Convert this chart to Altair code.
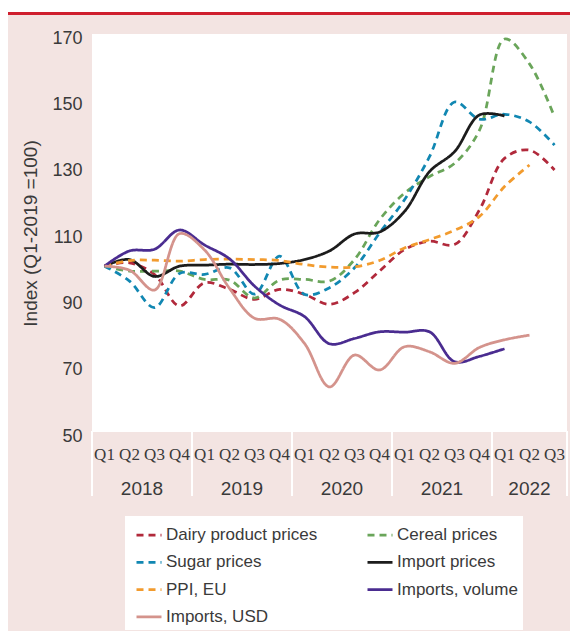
import altair as alt
import pandas as pd

# ---- data -------------------------------------------------------------
quarter_labels = ["Q1", "Q2", "Q3", "Q4", "Q1", "Q2", "Q3", "Q4", "Q1", "Q2",
                  "Q3", "Q4", "Q1", "Q2", "Q3", "Q4", "Q1", "Q2", "Q3"]
year_labels = ["2018"] * 4 + ["2019"] * 4 + ["2020"] * 4 + ["2021"] * 4 + ["2022"] * 3

dairy = [100, 101, 97.5, 88, 95, 93, 90, 93, 91.5, 88.5, 92, 98.5, 105, 107.5,
         106.5, 117, 132.5, 135, 129]
cereal = [100, 98.5, 98.5, 98.5, 96, 95.8, 90.4, 95.8, 96, 95.5, 102, 114, 122,
          127, 131, 141, 168.5, 161, 145]
sugar = [100, 95.5, 87.5, 97.8, 97.5, 99.5, 91.6, 103, 91.5, 93.5, 99.5, 110,
         120, 133, 149.5, 144.3, 145.8, 143.5, 136.5]
import_prices = [100, 102, 96.9, 100, 100.3, 100.6, 100.5, 100.8, 102, 104.6,
                 109.7, 110.3, 116.5, 128.5, 134.5, 145.6, 145.3, None, None]
ppi_eu = [100, 101.7, 101.8, 101.5, 102, 102.1, 102, 101.7, 100.5, 99.7, 99.8,
          101.7, 105.5, 108, 110.8, 115, 124, 130.5, None]
imports_volume = [100, 104.6, 105.1, 110.9, 106.4, 102.2, 94, 88.3, 84.8, 76.6,
                  78.2, 80.2, 80.1, 80.2, 71.2, 72.8, 75.1, None, None]
imports_usd = [100, 98.8, 92.8, 109.8, 104.9, 93.3, 84.3, 84, 76.7, 63.6, 73.2,
               68.7, 75.7, 74.2, 70.7, 75.5, 77.8, 79.2, None]

series_names = ["Dairy product prices", "Cereal prices", "Sugar prices",
                "Import prices", "PPI, EU", "Imports, volume", "Imports, USD"]
series_values = [dairy, cereal, sugar, import_prices, ppi_eu, imports_volume,
                 imports_usd]

# ---- styles -----------------------------------------------------------
series_colors = ["#b1293b", "#6aa55a", "#1187b2", "#1c1c1c", "#f29b2e",
                 "#4a2c90", "#d4938c"]
series_dashes = [[7, 5], [7, 5], [7, 5], [1, 0], [7, 5], [1, 0], [1, 0]]
PINK = "#f3e4e2"
TEXT = "#3a3a3a"

rows = []
for name, vals in zip(series_names, series_values):
    for i, v in enumerate(vals):
        if v is not None:
            rows.append({"series": name, "i": i, "value": v})
df = pd.DataFrame(rows)

qdf = pd.DataFrame({"i": list(range(len(quarter_labels))),
                    "q": quarter_labels, "year": year_labels})
one = pd.DataFrame({"a": [0]})

xscale = alt.Scale(domain=[-0.5, 18.5], nice=False, zero=False)

legend = alt.Legend(
    title=None, orient="none", legendX=33, legendY=482, columns=2,
    direction="horizontal", columnPadding=43, rowPadding=5.3, padding=5,
    fillColor="white", symbolType="stroke", symbolSize=625,
    symbolStrokeWidth=2.75, symbolOffset=5,
    labelFont="Liberation Sans", labelFontSize=17, labelColor=TEXT,
    labelOffset=3,
)

lines = alt.Chart(df).mark_line(interpolate="catmull-rom", strokeWidth=2.75).encode(
    x=alt.X("i:Q", scale=xscale, axis=None),
    y=alt.Y("value:Q", scale=alt.Scale(domain=[50, 170], nice=False, zero=False),
            axis=alt.Axis(values=[50, 70, 90, 110, 130, 150, 170], grid=False,
                          domain=False, ticks=False, labelFont="Liberation Sans",
                          labelFontSize=18, labelColor=TEXT, labelPadding=10,
                          labelOffset=4, title="Index (Q1-2019 =100)",
                          titleFont="Liberation Sans", titleFontSize=19,
                          titleFontWeight="normal", titleColor=TEXT,
                          titlePadding=11)),
    color=alt.Color("series:N", scale=alt.Scale(domain=series_names,
                                                range=series_colors),
                    legend=legend),
    strokeDash=alt.StrokeDash("series:N", scale=alt.Scale(domain=series_names,
                                                         range=series_dashes),
                              legend=None),
)

qtext = alt.Chart(qdf).mark_text(
    font="Liberation Sans Narrow", fontSize=17, color=TEXT, baseline="middle"
).encode(x=alt.X("i:Q", scale=xscale, axis=None), y=alt.value(421), text="q:N")

ytext = alt.Chart(qdf).transform_aggregate(
    xc="mean(i)", groupby=["year"]
).mark_text(font="Liberation Sans", fontSize=19, color=TEXT,
            baseline="middle").encode(
    x=alt.X("xc:Q", scale=xscale, axis=None), y=alt.value(455), text="year:N")

sep_lo = alt.Chart(qdf).transform_aggregate(
    lo="min(i)", groupby=["year"]
).transform_calculate(b="datum.lo - 0.5").mark_rule(
    color="white", strokeWidth=2).encode(
    x=alt.X("b:Q", scale=xscale, axis=None), y=alt.value(397), y2=alt.value(462))

sep_hi = alt.Chart(qdf).transform_aggregate(
    hi="max(i)", groupby=["year"]
).transform_calculate(b="datum.hi + 0.5").mark_rule(
    color="white", strokeWidth=2).encode(
    x=alt.X("b:Q", scale=xscale, axis=None), y=alt.value(397), y2=alt.value(462))

top_white = alt.Chart(one).mark_rule(color="white", strokeWidth=4).encode(
    x=alt.value(-84), x2=alt.value(478), y=alt.value(-24))
top_red = alt.Chart(one).mark_rule(color="#cf1f2e", strokeWidth=3).encode(
    x=alt.value(-84), x2=alt.value(478), y=alt.value(-20.5))

chart = alt.layer(
    top_white, top_red, sep_lo, sep_hi, qtext, ytext, lines
).properties(
    width=475, height=398,
    autosize=alt.AutoSizeParams(type="none"),
    padding={"left": 84, "top": 26, "right": 3, "bottom": 199},
    background=PINK,
).configure_view(fill="white", stroke=None)

chart.save("out.html", embed_options={"renderer": "svg", "actions": False})
